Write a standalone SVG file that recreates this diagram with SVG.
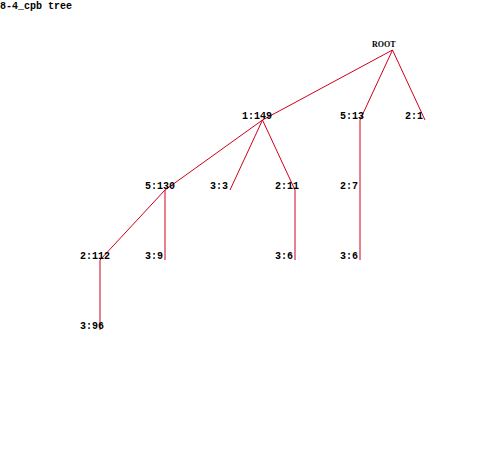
<svg xmlns="http://www.w3.org/2000/svg" width="490" height="450" viewBox="0 0 490 450">
<style>
.lbl{font-family:"Liberation Mono","DejaVu Sans Mono",monospace;font-weight:bold;font-size:10px;fill:#000}
.root{font-family:"Liberation Serif","DejaVu Serif",serif;font-weight:bold;font-size:8px;fill:#000}
.edge{stroke:#d0001a;stroke-width:1;fill:none}
</style>
<rect width="490" height="450" fill="#fff"/>
<text class="lbl" x="0" y="9">8-4_cpb tree</text>
<g id="connectors">
<line class="edge" x1="392.5" y1="50" x2="262.5" y2="120"/>
<line class="edge" x1="392.5" y1="50" x2="360" y2="120"/>
<line class="edge" x1="392.5" y1="50" x2="425" y2="120"/>
<line class="edge" x1="262.5" y1="120" x2="165" y2="190"/>
<line class="edge" x1="262.5" y1="120" x2="230" y2="190"/>
<line class="edge" x1="262.5" y1="120" x2="295" y2="190"/>
<line class="edge" x1="360" y1="120" x2="360" y2="190"/>
<line class="edge" x1="165" y1="190" x2="100" y2="260"/>
<line class="edge" x1="165" y1="190" x2="165" y2="260"/>
<line class="edge" x1="295" y1="190" x2="295" y2="260"/>
<line class="edge" x1="360" y1="190" x2="360" y2="260"/>
<line class="edge" x1="100" y1="260" x2="100" y2="330"/>
</g>
<g id="n-root"><text class="root" x="372" y="47">ROOT</text></g>
<g id="n-1-149"><text class="lbl" x="242" y="119">1:149</text></g>
<g id="n-5-13"><text class="lbl" x="340" y="119">5:13</text></g>
<g id="n-2-1"><text class="lbl" x="405" y="119">2:1</text></g>
<g id="n-5-130"><text class="lbl" x="145" y="189">5:130</text></g>
<g id="n-3-3"><text class="lbl" x="210" y="189">3:3</text></g>
<g id="n-2-11"><text class="lbl" x="275" y="189">2:11</text></g>
<g id="n-2-7"><text class="lbl" x="340" y="189">2:7</text></g>
<g id="n-2-112"><text class="lbl" x="80" y="259">2:112</text></g>
<g id="n-3-9"><text class="lbl" x="145" y="259">3:9</text></g>
<g id="n-3-6a"><text class="lbl" x="275" y="259">3:6</text></g>
<g id="n-3-6b"><text class="lbl" x="340" y="259">3:6</text></g>
<g id="n-3-96"><text class="lbl" x="80" y="329">3:96</text></g>
</svg>
